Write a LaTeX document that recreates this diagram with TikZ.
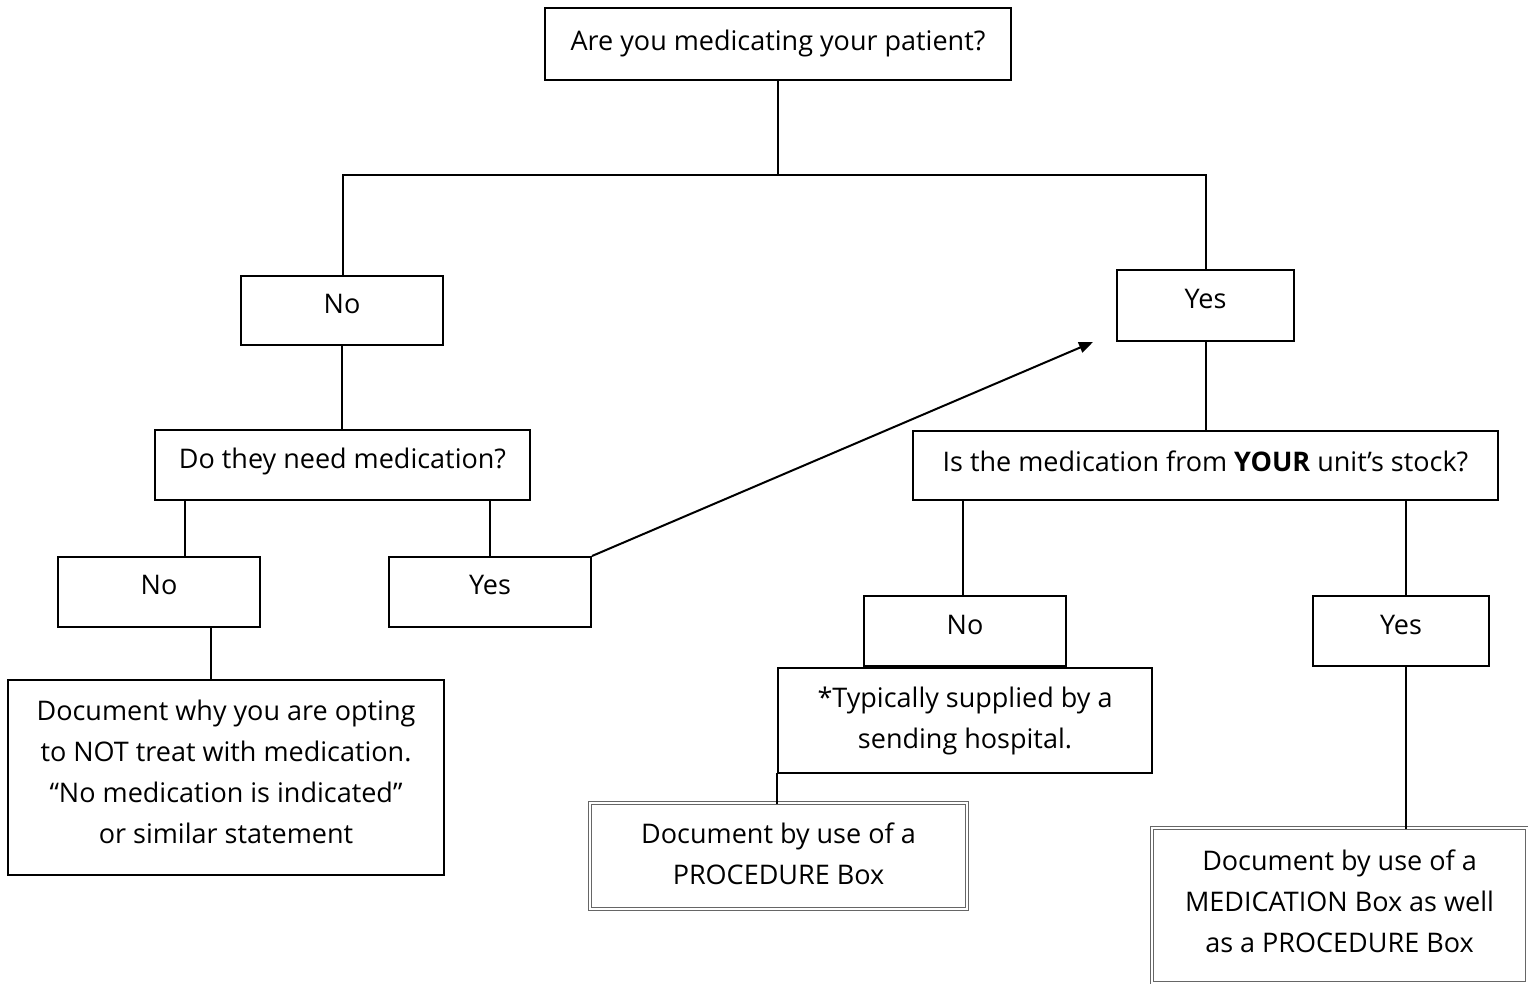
\documentclass[tikz,border=0pt]{standalone}
\usepackage{fontspec}
\setmainfont{Open Sans}
\usetikzlibrary{arrows.meta}
\begin{document}
\begin{tikzpicture}[x=1pt,y=-1pt,
  bx/.style={draw=black,line width=2pt,fill=white,inner sep=0pt},
  dbx/.style={draw=black!60,line width=0.7pt,double=white,double distance=2pt,fill=white,inner sep=0pt},
  tx/.style={font=\fontsize{27}{41}\selectfont,align=center,inner sep=0pt},
  ln/.style={line width=2pt,line cap=rect}]
\useasboundingbox (0,0) rectangle (1528,983);
% boxes
\node[bx,minimum width=466pt,minimum height=72pt] (top) at (778,44) {};
\node[bx,minimum width=202pt,minimum height=69pt] (no1) at (342,310) {};
\node[bx,minimum width=177pt,minimum height=71pt] (yes1) at (1205.5,305.5) {};
\node[bx,minimum width=375pt,minimum height=70pt] (need) at (342.5,465) {};
\node[bx,minimum width=202pt,minimum height=70pt] (no2) at (159,592) {};
\node[bx,minimum width=202pt,minimum height=70pt] (yes2) at (490,592) {};
\node[bx,minimum width=436pt,minimum height=195pt] (doc) at (226,777.5) {};
\node[bx,minimum width=585pt,minimum height=69pt] (stock) at (1205.5,465.5) {};
\node[bx,minimum width=202pt,minimum height=70pt] (no3) at (965,631) {};
\node[bx,minimum width=176pt,minimum height=70pt] (yes3) at (1401,631) {};
\node[bx,minimum width=374pt,minimum height=105pt] (typ) at (965,720.5) {};
\node[dbx,minimum width=377pt,minimum height=106pt] (proc) at (778.5,856) {};
\node[dbx,minimum width=375pt,minimum height=155pt] (med) at (1339.5,905.5) {};
% texts
\node[tx] (ttop) at ([yshift=1pt]top.center) {Are you medicating your patient?};
\node[tx] (tno1) at ([yshift=6pt]no1.center) {No};
\node[tx] (tyes1) at ([yshift=7pt]yes1.center) {Yes};
\node[tx] (tneed) at ([yshift=4pt]need.center) {Do they need medication?};
\node[tx] (tno2) at ([yshift=7pt]no2.center) {No};
\node[tx] (tyes2) at ([yshift=7pt]yes2.center) {Yes};
\node[tx] (tdoc) at ([yshift=6pt]doc.center) {Document why you are opting\\to NOT treat with medication.\\``No medication is indicated''\\or similar statement};
\node[tx] (tstock) at ([yshift=4pt]stock.center) {Is the medication from \textbf{YOUR} unit’s stock?};
\node[tx] (tno3) at ([yshift=6pt]no3.center) {No};
\node[tx] (tyes3) at ([yshift=6pt]yes3.center) {Yes};
\node[tx] (ttyp) at ([yshift=0pt]typ.center) {*Typically supplied by a\\sending hospital.};
\node[tx] (tproc) at ([yshift=2pt]proc.center) {Document by use of a\\PROCEDURE Box};
\node[tx] (tmed) at ([yshift=4pt]med.center) {Document by use of a\\MEDICATION Box as well\\as a PROCEDURE Box};
% connectors
\coordinate (j0) at (778,175);
\coordinate (jl) at (343,175);
\coordinate (jr) at (1206,175);
\draw[ln] (top.south) -- (j0);
\draw[ln] (jl) -- (jr);
\draw[ln] (jl) -- (no1.north -| jl);
\draw[ln] (jr) -- (yes1.north -| jr);
\draw[ln] (no1.south) -- (need.north -| no1.south);
\draw[ln] (need.south -| no2.north) ++(26,0) coordinate (a1) -- (a1 |- no2.north);
\draw[ln] (need.south -| yes2.north) -- (yes2.north);
\draw[ln] (no2.south) ++(52,0) coordinate (a2) -- (a2 |- doc.north);
\coordinate (arr) at (1093,342);
\draw[line width=2pt,-{Triangle[length=14pt,width=11pt]}] (yes2.north east) -- (arr);
\draw[ln] (yes1.south) -- (stock.north -| yes1.south);
\coordinate (s1) at (963,500);
\draw[ln] (s1) -- (s1 |- no3.north);
\coordinate (s2) at (1406,500);
\draw[ln] (s2) -- (s2 |- yes3.north);
\draw[ln] (yes3.south -| s2) -- (s2 |- med.north);
\draw[ln] (typ.south west) -- (typ.south west |- proc.north);
\end{tikzpicture}
\end{document}
